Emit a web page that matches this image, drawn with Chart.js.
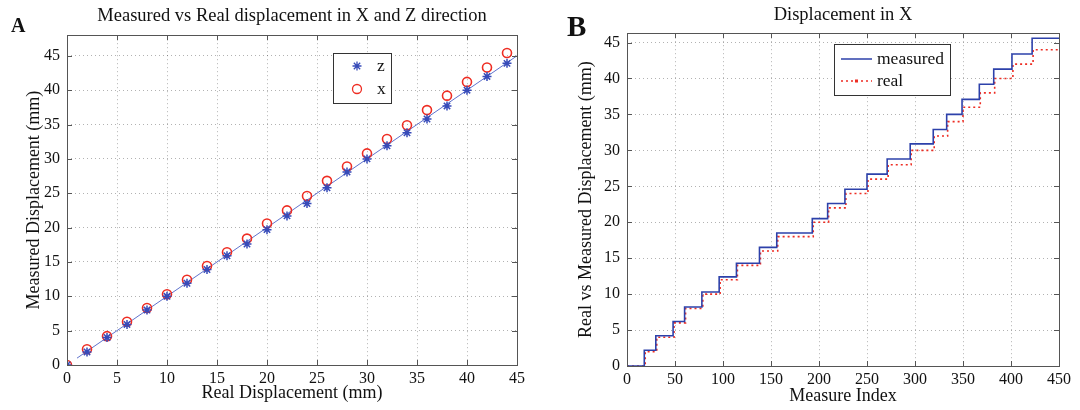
<!DOCTYPE html>
<html>
<head>
<meta charset="utf-8">
<script src="https://cdn.jsdelivr.net/npm/chart.js@4.4.0/dist/chart.umd.min.js"></script>
<style>
  body { margin: 0; background: #fff; width: 1080px; height: 410px; overflow: hidden; position: relative; font-family: "Liberation Serif", "DejaVu Serif", serif; }
  #left { position: absolute; left: 0; top: 0; width: 540px; height: 410px; }
  #right { position: absolute; left: 560px; top: 0; width: 520px; height: 410px; }
  .panel { position: absolute; font-weight: bold; color: #111; z-index: 2; line-height: 1; }
</style>
</head>
<body>
<div class="panel" style="left:11px;top:15px;font-size:20px">A</div>
<div class="panel" style="left:567px;top:12px;font-size:29px">B</div>
<div id="left"><canvas id="c1"></canvas></div>
<div id="right"><canvas id="c2"></canvas></div>
<script>
// panel A: measured vs real displacement
const realDisp = [0, 2, 4, 6, 8, 10, 12, 14, 16, 18, 20, 22, 24, 26, 28, 30, 32, 34, 36, 38, 40, 42, 44];
const zMeasured = [0, 1.9, 4.0, 5.9, 8.0, 10.0, 11.9, 13.9, 15.9, 17.6, 19.7, 21.7, 23.5, 25.8, 28.1, 30.0, 31.9, 33.8, 35.8, 37.7, 40.0, 42.0, 43.9];
const xMeasured = [0, 2.3, 4.2, 6.3, 8.3, 10.3, 12.4, 14.4, 16.4, 18.4, 20.6, 22.5, 24.6, 26.8, 28.9, 30.8, 32.9, 34.9, 37.1, 39.2, 41.2, 43.3, 45.4];
const idealX = [1, 45];
const idealY = [1, 45];

// panel B: step traces over measure index
const measuredStart = [0, 18, 30, 48, 60, 78, 96, 114, 138, 156, 193, 209, 227, 250, 271, 295, 319, 333, 349, 367, 382, 401, 422];
const measuredLevel = [0, 2.2, 4.2, 6.2, 8.2, 10.3, 12.4, 14.3, 16.5, 18.5, 20.5, 22.6, 24.6, 26.7, 28.8, 30.9, 32.9, 35.0, 37.1, 39.2, 41.3, 43.4, 45.6];
const realStart = [0, 19, 31, 49, 61, 79, 97, 115, 139, 157, 194, 210, 228, 251, 272, 296, 320, 334, 350, 368, 383, 402, 423];
const realLevel = [0, 2, 4, 6, 8, 10, 12, 14, 16, 18, 20, 22, 24, 26, 28, 30, 32, 34, 36, 38, 40, 42, 44];
const lastIndex = 450;

const serif = '"Liberation Serif", "DejaVu Serif", serif';
const blue = 'rgb(55,75,185)';
const red = 'rgb(238,45,35)';
const gridColor = 'rgba(0,0,0,0.3)';

function stepPoints(starts, levels) {
  const pts = starts.map((s, i) => ({ x: s, y: levels[i] }));
  pts.push({ x: lastIndex, y: levels[levels.length - 1] });
  return pts;
}

function drawMarker(ctx, style, x, y, r) {
  ctx.beginPath();
  if (style === 'star') {
    const d = r * Math.SQRT1_2;
    ctx.moveTo(x - r, y); ctx.lineTo(x + r, y);
    ctx.moveTo(x, y - r); ctx.lineTo(x, y + r);
    ctx.moveTo(x - d, y - d); ctx.lineTo(x + d, y + d);
    ctx.moveTo(x - d, y + d); ctx.lineTo(x + d, y - d);
  } else {
    ctx.arc(x, y, r, 0, Math.PI * 2);
  }
  ctx.stroke();
}

// box around plot, inward ticks, and legend box
const frame = {
  id: 'frame',
  afterDraw(chart, args, opts) {
    const { ctx, chartArea: a, scales } = chart;
    ctx.save();
    ctx.strokeStyle = '#555';
    ctx.lineWidth = 1;
    ctx.setLineDash([]);
    const tl = 5;
    ctx.beginPath();
    scales.x.ticks.forEach(t => {
      const px = Math.round(scales.x.getPixelForValue(t.value)) + 0.5;
      ctx.moveTo(px, a.bottom); ctx.lineTo(px, a.bottom - tl);
      ctx.moveTo(px, a.top); ctx.lineTo(px, a.top + tl);
    });
    scales.y.ticks.forEach(t => {
      const py = Math.round(scales.y.getPixelForValue(t.value)) + 0.5;
      ctx.moveTo(a.left, py); ctx.lineTo(a.left + tl, py);
      ctx.moveTo(a.right, py); ctx.lineTo(a.right - tl, py);
    });
    ctx.stroke();
    ctx.strokeRect(Math.round(a.left) + 0.5, Math.round(a.top) + 0.5, Math.round(a.width), Math.round(a.height));

    if (opts && opts.box) {
      const b = opts.box;
      ctx.fillStyle = '#fff';
      ctx.fillRect(b.x, b.y, b.w, b.h);
      ctx.strokeStyle = '#333';
      ctx.strokeRect(b.x + 0.5, b.y + 0.5, b.w, b.h);
      ctx.font = '17.5px ' + serif;
      ctx.textBaseline = 'middle';
      ctx.textAlign = 'left';
      let row = 0;
      chart.data.datasets.forEach(ds => {
        if (!ds.label) return;
        const y = b.y + opts.rows[row];
        ctx.strokeStyle = ds.borderColor;
        ctx.lineWidth = 1.3;
        if (opts.kind === 'marker') {
          drawMarker(ctx, ds.pointStyle, opts.sampleX, y, 4.5);
        } else {
          ctx.setLineDash(ds.borderDash || []);
          ctx.lineWidth = 1.5;
          ctx.beginPath();
          ctx.moveTo(opts.sampleX, y); ctx.lineTo(opts.sampleX + opts.sampleW, y);
          ctx.stroke();
          ctx.setLineDash([]);
          if (ds.borderDash) {
            ctx.fillStyle = ds.borderColor;
            ctx.fillRect(opts.sampleX + opts.sampleW / 2 - 1.5, y - 1.5, 3, 3);
          }
        }
        ctx.fillStyle = '#111';
        ctx.fillText(ds.label, opts.textX, y);
        row++;
      });
    }
    ctx.restore();
  }
};

const tickFont = { family: serif, size: 16 };
const titleFont = { family: serif, size: 18 };

function axis(min, max, step, title, isX, fitSize, titlePad, tickPad) {
  return {
    type: 'linear', min: min, max: max,
    ticks: { stepSize: step, includeBounds: false, padding: tickPad, font: tickFont, color: '#111' },
    grid: { color: gridColor, drawTicks: false, lineWidth: 1 },
    border: { display: false, dash: [1, 3] },
    title: { display: true, text: title, font: titleFont, color: '#111', padding: titlePad },
    afterFit(s) { if (isX) s.height = fitSize; else s.width = fitSize; }
  };
}

new Chart(document.getElementById('c1'), {
  type: 'scatter',
  data: {
    datasets: [
      { label: 'z', data: realDisp.map((r, i) => ({ x: r, y: zMeasured[i] })), pointStyle: 'star', pointRadius: 4.5, borderColor: blue, backgroundColor: blue, borderWidth: 1.5, order: 1 },
      { label: 'x', data: realDisp.map((r, i) => ({ x: r, y: xMeasured[i] })), pointStyle: 'circle', pointRadius: 4.5, borderColor: red, backgroundColor: 'rgba(0,0,0,0)', borderWidth: 1.6, order: 2 },
      { data: idealX.map((r, i) => ({ x: r, y: idealY[i] })), showLine: true, pointRadius: 0, borderColor: 'rgb(95,115,205)', borderWidth: 1, order: 3 }
    ]
  },
  options: {
    responsive: true, maintainAspectRatio: false, animation: false,
    layout: { padding: { right: 23 } },
    plugins: {
      legend: { display: false },
      tooltip: { enabled: false },
      title: { display: true, fullSize: false, text: 'Measured vs Real displacement in X and Z direction', font: { family: serif, size: 18.5, weight: 'normal' }, color: '#111', padding: { top: 5, bottom: 8 } },
      frame: { kind: 'marker', box: { x: 333, y: 53, w: 58, h: 50 }, rows: [13, 36], sampleX: 357, textX: 377 }
    },
    scales: {
      x: axis(0, 45, 5, 'Real Displacement (mm)', true, 45, { top: 0, bottom: 6 }, 4),
      y: axis(0, 48, 5, 'Measured Displacement (mm)', false, 67, { top: 23, bottom: 0 }, 7)
    }
  },
  plugins: [frame]
});

new Chart(document.getElementById('c2'), {
  type: 'scatter',
  data: {
    datasets: [
      { label: 'measured', data: stepPoints(measuredStart, measuredLevel), showLine: true, stepped: 'before', pointRadius: 0, borderColor: 'rgb(45,65,170)', borderWidth: 1.6, order: 1 },
      { label: 'real', data: stepPoints(realStart, realLevel), showLine: true, stepped: 'before', pointRadius: 0, borderColor: red, borderDash: [2, 3], borderWidth: 1.6, order: 2 }
    ]
  },
  options: {
    responsive: true, maintainAspectRatio: false, animation: false,
    layout: { padding: { right: 21 } },
    plugins: {
      legend: { display: false },
      tooltip: { enabled: false },
      title: { display: true, fullSize: false, text: 'Displacement in X', font: { family: serif, size: 18.5, weight: 'normal' }, color: '#111', padding: { top: 4, bottom: 7 } },
      frame: { kind: 'line', box: { x: 274, y: 44, w: 116, h: 51 }, rows: [15, 37], sampleX: 281, sampleW: 31, textX: 317 }
    },
    scales: {
      x: axis(0, 450, 50, 'Measure Index', true, 44, { top: 0, bottom: 3 }, 4),
      y: axis(0, 46.3, 5, 'Real vs Measured Displacement (mm)', false, 67, { top: 15, bottom: 0 }, 7)
    }
  },
  plugins: [frame]
});
</script>
</body>
</html>
